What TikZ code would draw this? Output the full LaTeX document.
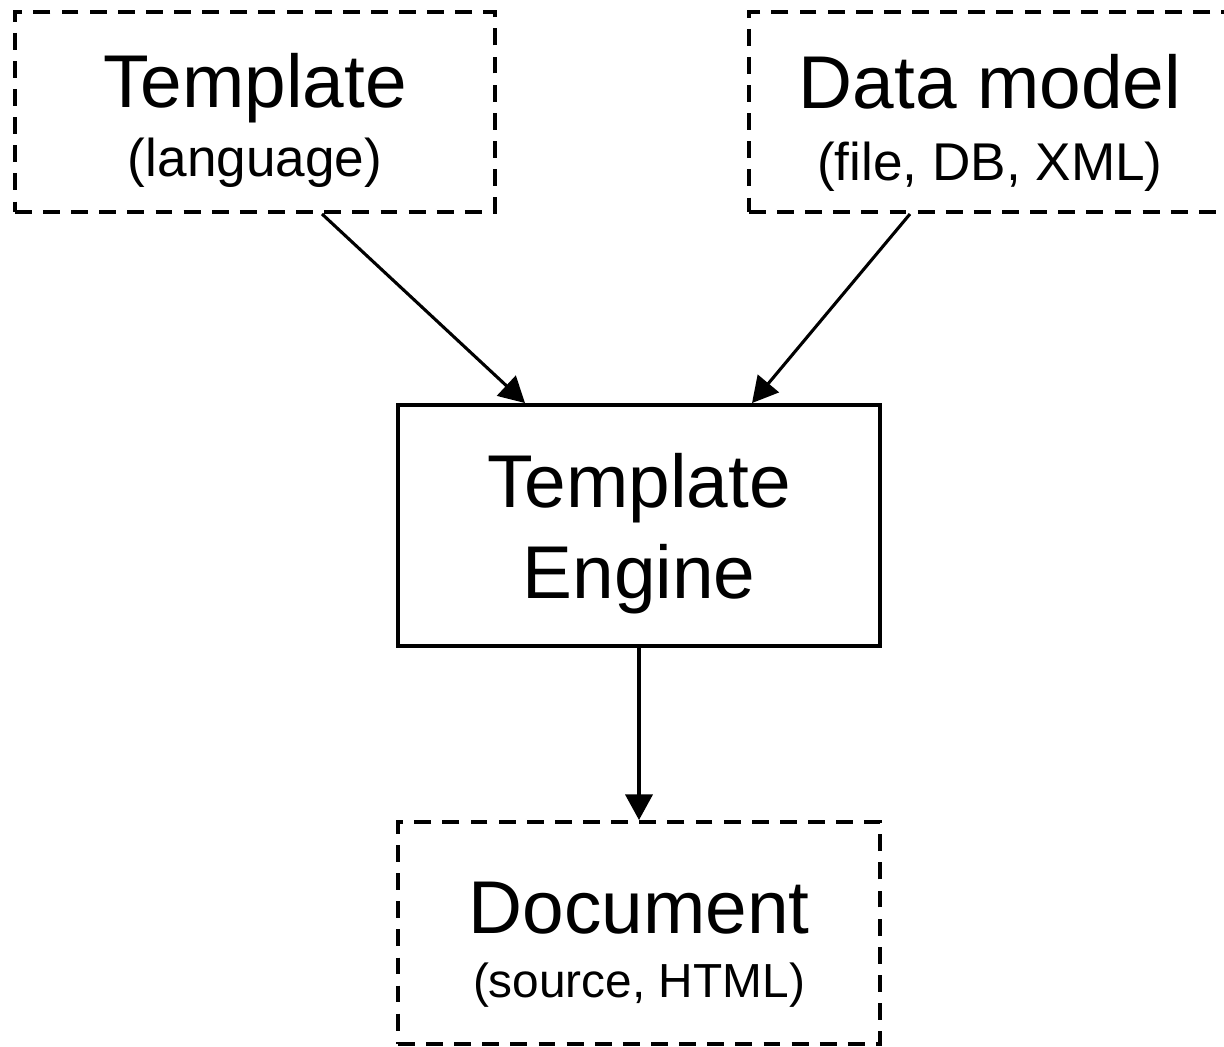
\documentclass[tikz,border=0pt]{standalone}
\usepackage{fontspec}
\setmainfont{Liberation Sans}
\usetikzlibrary{arrows.meta}
\begin{document}
\begin{tikzpicture}[
    dashbox/.style={draw, line width=1.4pt, dash pattern=on 6pt off 4pt,
      minimum width=6cm, minimum height=2.5cm, inner sep=0pt},
    enginebox/.style={draw, line width=1.4pt,
      minimum width=6.025cm, minimum height=3.0125cm, inner sep=0pt},
    title/.style={anchor=base, inner sep=0pt, font=\fontsize{26.6}{31}\selectfont},
    subtitle/.style={anchor=base, inner sep=0pt, font=\fontsize{18.9}{22}\selectfont},
    flow/.style={line width=1.1pt, -{Triangle[length=0.32cm,width=0.34cm]}}]
  \useasboundingbox (0,0) rectangle (15.3,-13.075);

  % the two inputs
  \node[dashbox] (tmpl) at (3.1875,-1.4) {};
  \node[title] (tmplname) at ([yshift=0.06cm]tmpl.center) {Template};
  \node[subtitle] (tmpllang) at ([yshift=-0.8cm]tmpl.center) {(language)};

  \node[dashbox, minimum width=6.025cm] (data) at (12.375,-1.4) {};
  \node[title] (dataname) at ([yshift=0.05cm]data.center) {Data model};
  \node[subtitle] (datasrc) at ([yshift=-0.86cm]data.center) {(file, DB, XML)};

  % engine in the middle
  \node[enginebox] (engine) at (7.9875,-6.569) {};
  \node[title] (engname1) at ([yshift=0.22cm]engine.center) {Template};
  \node[title] (engname2) at ([yshift=-0.906cm]engine.center) {Engine};

  % output
  \node[dashbox, minimum width=6.025cm, minimum height=2.775cm] (doc) at (7.9875,-11.6625) {};
  \node[title] (docname) at ([yshift=-0.01cm]doc.center) {Document};
  \node[subtitle, font=\fontsize{17}{20}\selectfont] (docfmt) at ([yshift=-0.81cm]doc.center) {(source, HTML)};

  \draw[flow] ([xshift=0.8375cm]tmpl.south) -- ([xshift=-1.425cm]engine.north);
  \draw[flow] ([xshift=-1cm]data.south) -- ([xshift=1.4125cm]engine.north);
  \draw[flow] (engine.south) -- (doc.north);
\end{tikzpicture}
\end{document}
